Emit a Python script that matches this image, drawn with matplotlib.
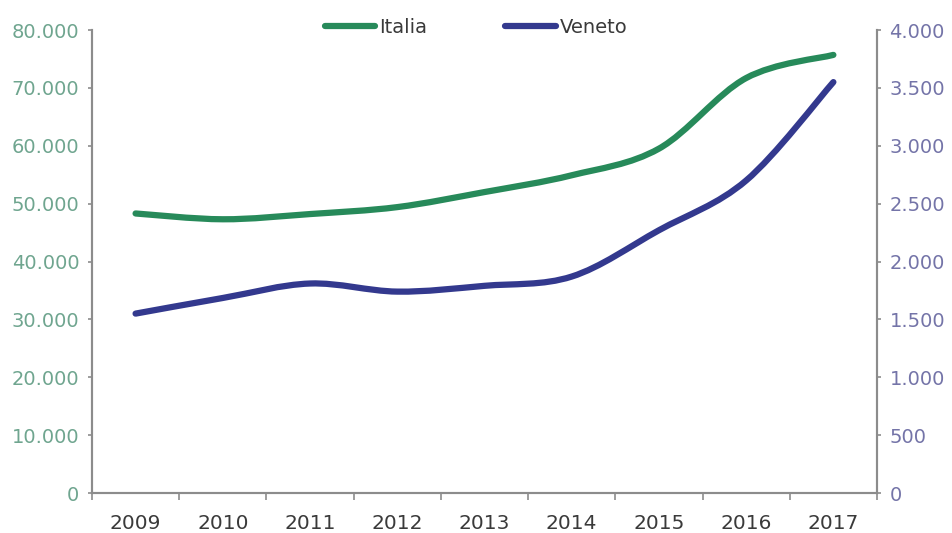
import numpy as np
import matplotlib
matplotlib.use("Agg")
import matplotlib.pyplot as plt
from matplotlib.path import Path
from matplotlib.patches import PathPatch
from matplotlib.lines import Line2D
from matplotlib.ticker import FuncFormatter, FixedLocator

anni = ["2009", "2010", "2011", "2012", "2013", "2014", "2015", "2016", "2017"]
italia = [48300, 47300, 48200, 49400, 52000, 54900, 59500, 71700, 75700]
veneto = [1550, 1685, 1810, 1740, 1790, 1870, 2270, 2700, 3550]

verde = "#278a5a"
blu = "#33398e"
grigio = "#8c8c8c"


def curva_liscia(x, y, t=1 / 6):
    # bezier cubiche tra i punti, tipo "linea smussata" di Excel
    x = np.asarray(x, float)
    y = np.asarray(y, float)
    n = len(x)
    verts = [(x[0], y[0])]
    codes = [Path.MOVETO]
    for i in range(n - 1):
        p0 = (x[max(i - 1, 0)], y[max(i - 1, 0)])
        p1 = (x[i], y[i])
        p2 = (x[i + 1], y[i + 1])
        p3 = (x[min(i + 2, n - 1)], y[min(i + 2, n - 1)])
        c1 = (p1[0] + (p2[0] - p0[0]) * t, p1[1] + (p2[1] - p0[1]) * t)
        c2 = (p2[0] - (p3[0] - p1[0]) * t, p2[1] - (p3[1] - p1[1]) * t)
        verts += [c1, c2, p2]
        codes += [Path.CURVE4] * 3
    return Path(verts, codes)


def migliaia(v, pos):
    return f"{int(v):,}".replace(",", ".")


plt.rcParams["font.family"] = "DejaVu Sans"
fig = plt.figure(figsize=(9.52, 5.33), dpi=100)
ax = fig.add_axes([0.0966, 0.075, 0.8246, 0.8687])
ax2 = ax.twinx()

x = np.arange(len(anni))
ax.add_patch(PathPatch(curva_liscia(x, italia), fill=False, edgecolor=verde,
                       lw=4.5, capstyle="round", zorder=3))
ax2.add_patch(PathPatch(curva_liscia(x, veneto), fill=False, edgecolor=blu,
                        lw=4.5, capstyle="round", zorder=3))

ax.set_xlim(-0.5, len(anni) - 0.5)
ax.set_ylim(0, 80000)
ax2.set_ylim(0, 4000)
ax.set_yticks(np.arange(0, 80001, 10000))
ax2.set_yticks(np.arange(0, 4001, 500))
ax.yaxis.set_major_formatter(FuncFormatter(migliaia))
ax2.yaxis.set_major_formatter(FuncFormatter(migliaia))

ax.set_xticks(x)
ax.set_xticklabels(anni)
ax.xaxis.set_minor_locator(FixedLocator(np.arange(-0.5, len(anni), 1.0)))
ax.tick_params(axis="x", which="major", length=0, pad=15, labelsize=14.5, labelcolor="#3a3a3a")
ax.tick_params(axis="x", which="minor", length=5, width=1.2, color=grigio, direction="out")
ax.tick_params(axis="y", length=3, width=1.2, color=grigio, labelsize=14,
               labelcolor="#6fa58f", pad=6)
ax2.tick_params(axis="y", length=3, width=1.2, color=grigio, labelsize=14,
                labelcolor="#7474a8", pad=6)

for a in (ax, ax2):
    a.spines["top"].set_visible(False)
    for s in ("left", "right", "bottom"):
        a.spines[s].set_color(grigio)
        a.spines[s].set_linewidth(1.5)

maniglie = [Line2D([], [], color=verde, lw=4.5, solid_capstyle="round"),
            Line2D([], [], color=blu, lw=4.5, solid_capstyle="round")]
fig.legend(maniglie, ["Italia", "Veneto"], loc="center", bbox_to_anchor=(0.5, 0.948),
           ncol=2, frameon=False, fontsize=14, handlelength=2.6, handletextpad=0.2,
           columnspacing=4.0, labelcolor="#3a3a3a")

fig.savefig("out.png", dpi=100, facecolor="white")
